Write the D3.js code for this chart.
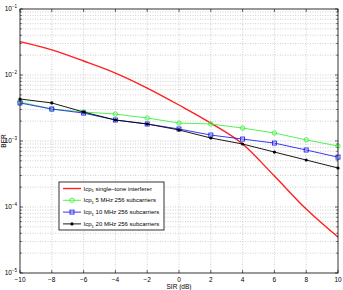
<!DOCTYPE html>
<html>
<head>
<meta charset="utf-8">
<script src="https://cdn.jsdelivr.net/npm/d3@7"></script>
<style>
  body { margin: 0; background: #fff; }
  svg { display: block; font-family: "Liberation Sans", Arial, sans-serif; }
</style>
</head>
<body>
<div id="chart"></div>
<script>
// SIR values (dB)
const sir = [-10, -8, -6, -4, -2, 0, 2, 4, 6, 8, 10];

// BER per series
const berSingleTone = [3.2e-2, 2.4e-2, 1.63e-2, 1.07e-2, 6.35e-3, 3.51e-3, 1.87e-3, 9.0e-4, 2.95e-4, 9.3e-5, 3.5e-5];
const ber5MHz = [3.9e-3, 3.05e-3, 2.75e-3, 2.56e-3, 2.23e-3, 1.87e-3, 1.81e-3, 1.57e-3, 1.32e-3, 1.04e-3, 8.4e-4];
const ber10MHz = [3.77e-3, 3.05e-3, 2.65e-3, 2.08e-3, 1.81e-3, 1.52e-3, 1.23e-3, 1.07e-3, 9.3e-4, 7.3e-4, 5.7e-4];
const ber20MHz = [4.33e-3, 3.77e-3, 2.75e-3, 2.08e-3, 1.81e-3, 1.47e-3, 1.11e-3, 9.0e-4, 6.8e-4, 5.15e-4, 3.9e-4];

const xTicks = [-10, -8, -6, -4, -2, 0, 2, 4, 6, 8, 10];
const yExponents = [-1, -2, -3, -4, -5];

const seriesNames = [
  " single\u2013tone interferer",
  " 5 MHz 256 subcarriers",
  " 10 MHz 256 subcarriers",
  " 20 MHz 256 subcarriers",
];

const width = 343;
const height = 290;
const marginTop = 9;
const marginRight = 5;
const marginBottom = 17;
const marginLeft = 20;

const series = [
  { name: seriesNames[0], values: berSingleTone, color: "#ff1f1f", marker: "none", curve: d3.curveMonotoneX, sw: 1.4 },
  { name: seriesNames[1], values: ber5MHz, color: "#3cf03c", marker: "circle", curve: d3.curveLinear, sw: 0.9 },
  { name: seriesNames[2], values: ber10MHz, color: "#2222ee", marker: "square", curve: d3.curveLinear, sw: 0.9 },
  { name: seriesNames[3], values: ber20MHz, color: "#000000", marker: "dot", curve: d3.curveLinear, sw: 0.9 },
];

const x = d3.scaleLinear().domain([-10, 10]).range([marginLeft, width - marginRight]);
const y = d3.scaleLog().domain([1e-5, 1e-1]).range([height - marginBottom, marginTop]);

const svg = d3.select("#chart").append("svg")
  .attr("width", width)
  .attr("height", height)
  .attr("viewBox", [0, 0, width, height]);

// grid
const minorY = [];
for (let e = -5; e < -1; e++) {
  for (let m = 1; m <= 9; m++) minorY.push(m * Math.pow(10, e));
}
minorY.push(1e-1);

const gGrid = svg.append("g").attr("class", "grid")
  .attr("stroke", "#b0b0b0")
  .attr("stroke-width", 0.6)
  .attr("stroke-dasharray", "1,1.5");

gGrid.selectAll(".gx").data(xTicks.slice(1, -1)).join("line")
  .attr("x1", (d) => x(d)).attr("x2", (d) => x(d))
  .attr("y1", marginTop).attr("y2", height - marginBottom);

gGrid.selectAll(".gy").data(minorY.filter((d) => d > 1e-5 && d < 1e-1)).join("line")
  .attr("y1", (d) => y(d)).attr("y2", (d) => y(d))
  .attr("x1", marginLeft).attr("x2", width - marginRight);

// ticks (inward, on all sides)
const gTicks = svg.append("g").attr("stroke", "#000").attr("stroke-width", 0.6);
xTicks.forEach((t) => {
  gTicks.append("line").attr("x1", x(t)).attr("x2", x(t))
    .attr("y1", height - marginBottom).attr("y2", height - marginBottom - 3);
  gTicks.append("line").attr("x1", x(t)).attr("x2", x(t))
    .attr("y1", marginTop).attr("y2", marginTop + 3);
});
minorY.forEach((t) => {
  const major = yExponents.some((e) => Math.abs(Math.log10(t) - e) < 1e-9);
  const len = major ? 3 : 1.8;
  gTicks.append("line").attr("y1", y(t)).attr("y2", y(t))
    .attr("x1", marginLeft).attr("x2", marginLeft + len);
  gTicks.append("line").attr("y1", y(t)).attr("y2", y(t))
    .attr("x1", width - marginRight).attr("x2", width - marginRight - len);
});

// tick labels
svg.append("g").selectAll("text").data(xTicks).join("text")
  .attr("x", (d) => x(d))
  .attr("y", height - marginBottom + 9)
  .attr("text-anchor", "middle")
  .attr("font-size", 6.5)
  .text((d) => (d < 0 ? "\u2212" + Math.abs(d) : d));

const yl = svg.append("g").selectAll("text").data(yExponents).join("text")
  .attr("x", marginLeft - 3)
  .attr("y", (d) => y(Math.pow(10, d)) + 2)
  .attr("text-anchor", "end")
  .attr("font-size", 6.5);
yl.append("tspan").text("10");
yl.append("tspan").attr("dy", -3).attr("font-size", 4.5).text((d) => "\u2212" + Math.abs(d));

// axis titles
svg.append("text")
  .attr("x", x(0))
  .attr("y", height - 1.5)
  .attr("text-anchor", "middle")
  .attr("font-size", 6.5)
  .text("SIR (dB)");

svg.append("text")
  .attr("transform", `translate(6,${(marginTop + height - marginBottom) / 2}) rotate(-90)`)
  .attr("text-anchor", "middle")
  .attr("font-size", 6.5)
  .text("BER");

// lines
const line = d3.line().x((d) => x(d[0])).y((d) => y(d[1]));

function drawMarker(g, type, color) {
  if (type === "circle") {
    g.append("circle").attr("r", 2.2).attr("fill", "none").attr("stroke", color).attr("stroke-width", 0.9);
  } else if (type === "square") {
    g.append("rect").attr("x", -2).attr("y", -2).attr("width", 4).attr("height", 4)
      .attr("fill", "none").attr("stroke", color).attr("stroke-width", 0.9);
  } else if (type === "dot") {
    g.append("circle").attr("r", 1.6).attr("fill", color);
  }
}

const gLines = svg.append("g");
series.forEach((s) => {
  const pts = sir.map((v, i) => [v, s.values[i]]);
  gLines.append("path")
    .attr("fill", "none")
    .attr("stroke", s.color)
    .attr("stroke-width", s.sw)
    .attr("d", line.curve(s.curve)(pts));
  pts.forEach((p) => {
    const g = gLines.append("g").attr("transform", `translate(${x(p[0])},${y(p[1])})`);
    drawMarker(g, s.marker, s.color);
  });
});

// box
svg.append("rect")
  .attr("x", marginLeft).attr("y", marginTop)
  .attr("width", width - marginLeft - marginRight)
  .attr("height", height - marginTop - marginBottom)
  .attr("fill", "none").attr("stroke", "#000").attr("stroke-width", 0.8);

// legend
const legend = svg.append("g").attr("transform", "translate(59,182)");
legend.append("rect").attr("width", 105).attr("height", 48)
  .attr("fill", "#fff").attr("stroke", "#000").attr("stroke-width", 0.8);
series.forEach((s, i) => {
  const ly = 6.5 + i * 11.8;
  legend.append("line").attr("x1", 4).attr("x2", 22).attr("y1", ly).attr("y2", ly)
    .attr("stroke", s.color).attr("stroke-width", s.sw);
  const m = legend.append("g").attr("transform", `translate(13,${ly})`);
  drawMarker(m, s.marker, s.color);
  const t = legend.append("text").attr("x", 24.5).attr("y", ly + 2).attr("font-size", 6);
  t.append("tspan").text("Icp");
  t.append("tspan").attr("dy", 1.8).attr("font-size", 4.3).text("1");
  t.append("tspan").attr("dy", -1.8).text(s.name);
});
</script>
</body>
</html>
